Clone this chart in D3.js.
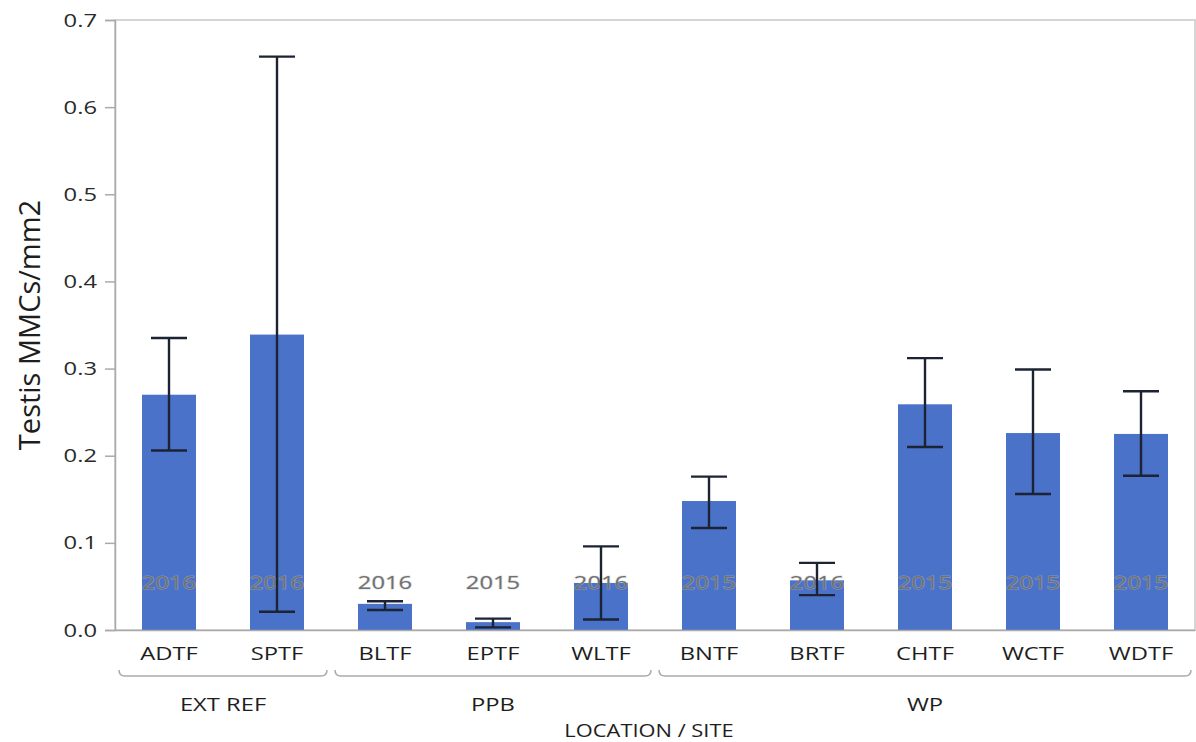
<!DOCTYPE html>
<html>
<head>
<meta charset="utf-8">
<script src="https://cdn.jsdelivr.net/npm/d3@7"></script>
<style>
  body { margin: 0; background: #fff; }
  text { font-family: "Open Sans", "Noto Sans", sans-serif; }
</style>
</head>
<body>
<div id="chart"></div>
<script>
const width = 1196;
const height = 742;
const margin = { top: 20, right: 1, bottom: 112, left: 115 };
const sx = 1.25; // the source picture is stretched sideways

const sites = ['ADTF', 'SPTF', 'BLTF', 'EPTF', 'WLTF', 'BNTF', 'BRTF', 'CHTF', 'WCTF', 'WDTF'];
const means = [0.270, 0.339, 0.030, 0.009, 0.054, 0.148, 0.057, 0.259, 0.226, 0.225];
const upper = [0.335, 0.658, 0.033, 0.013, 0.096, 0.176, 0.077, 0.312, 0.299, 0.274];
const lower = [0.206, 0.021, 0.023, 0.003, 0.012, 0.117, 0.040, 0.210, 0.156, 0.177];
const years = ['2016', '2016', '2016', '2015', '2016', '2015', '2016', '2015', '2015', '2015'];
const groups = ['EXT REF', 'PPB', 'WP'];
const groupSpans = [[0, 1], [2, 4], [5, 9]];
const yTicks = [0, 0.1, 0.2, 0.3, 0.4, 0.5, 0.6, 0.7];

const data = sites.map((s, i) => ({ site: s, mean: means[i], hi: upper[i], lo: lower[i], year: years[i] }));

const svg = d3.select('#chart')
  .append('svg')
  .attr('width', width)
  .attr('height', height);

const x = d3.scaleBand()
  .domain(sites)
  .range([margin.left, width - margin.right])
  .paddingInner(0.5)
  .paddingOuter(0.25);

const y = d3.scaleLinear()
  .domain([0, 0.7])
  .range([height - margin.bottom, margin.top]);

// horizontal text placed at (px, py), widened like the source
function wideText(px, py, str, size, fill) {
  return svg.append('text')
    .attr('transform', `translate(${px},${py}) scale(${sx},1)`)
    .attr('text-anchor', 'middle')
    .attr('font-size', size)
    .attr('fill', fill)
    .text(str);
}

// frame
svg.append('rect')
  .attr('x', margin.left)
  .attr('y', margin.top)
  .attr('width', width - margin.right - margin.left)
  .attr('height', height - margin.bottom - margin.top)
  .attr('fill', 'none')
  .attr('stroke', '#c8c8c8')
  .attr('stroke-width', 1.5);

// y axis
const yAxis = d3.axisLeft(y).tickValues(yTicks).tickFormat(d3.format('.1f')).tickSize(10).tickPadding(0);
const gy = svg.append('g')
  .attr('transform', `translate(${margin.left},0)`)
  .call(yAxis);
gy.select('.domain').attr('stroke', '#aaa').attr('stroke-width', 1.5);
gy.selectAll('.tick line').attr('stroke', '#aaa').attr('stroke-width', 1.5);
gy.selectAll('.tick text')
  .attr('x', 0)
  .attr('transform', `translate(-18,0) scale(${sx},1)`)
  .attr('font-size', 19)
  .attr('fill', '#2a2a2a');

// bars
svg.selectAll('rect.bar').data(data)
  .enter().append('rect')
  .attr('class', 'bar')
  .attr('x', d => x(d.site))
  .attr('width', x.bandwidth())
  .attr('y', d => y(d.mean))
  .attr('height', d => y(0) - y(d.mean))
  .attr('fill', '#4a72c8');

// year labels
data.forEach(d => {
  wideText(x(d.site) + x.bandwidth() / 2, 589, d.year, 19, '#707070')
    .attr('stroke', 'rgba(190,190,190,0.5)')
    .attr('stroke-width', 1.2)
    .attr('paint-order', 'stroke');
});

// error bars
const cap = 18;
const err = svg.append('g').attr('stroke', '#1c2333').attr('stroke-width', 2.4);
err.selectAll('line.stem').data(data)
  .enter().append('line')
  .attr('x1', d => x(d.site) + x.bandwidth() / 2)
  .attr('x2', d => x(d.site) + x.bandwidth() / 2)
  .attr('y1', d => y(d.hi))
  .attr('y2', d => y(d.lo));
['hi', 'lo'].forEach(k => {
  err.selectAll(`line.cap-${k}`).data(data)
    .enter().append('line')
    .attr('x1', d => x(d.site) + x.bandwidth() / 2 - cap)
    .attr('x2', d => x(d.site) + x.bandwidth() / 2 + cap)
    .attr('y1', d => y(d[k]))
    .attr('y2', d => y(d[k]));
});

// x axis
const gx = svg.append('g')
  .attr('transform', `translate(0,${y(0)})`)
  .call(d3.axisBottom(x).tickSize(0).tickPadding(0));
gx.select('.domain').attr('stroke', '#aaa').attr('stroke-width', 1.5);
gx.selectAll('.tick text')
  .attr('y', 0)
  .attr('dy', 0)
  .attr('transform', `translate(0,30) scale(${sx},1)`)
  .attr('font-size', 19)
  .attr('fill', '#1e1e1e');

// group brackets
const step = x.step();
const bracketY = 676;
groupSpans.forEach((span, i) => {
  const x0 = x(sites[span[0]]) + x.bandwidth() / 2 - step / 2 + 4;
  const x1 = x(sites[span[1]]) + x.bandwidth() / 2 + step / 2 - 4;
  svg.append('path')
    .attr('d', `M${x0},${bracketY - 6} Q${x0},${bracketY} ${x0 + 6},${bracketY} L${x1 - 6},${bracketY} Q${x1},${bracketY} ${x1},${bracketY - 6}`)
    .attr('fill', 'none')
    .attr('stroke', '#aaa')
    .attr('stroke-width', 1.5);
  wideText((x0 + x1) / 2, 711, groups[i], 19, '#1e1e1e');
});

// axis titles
wideText((margin.left + width - margin.right) / 2 - 6, 737, 'LOCATION / SITE', 17.5, '#1e1e1e');

svg.append('text')
  .attr('transform', `translate(40,${(margin.top + height - margin.bottom) / 2}) rotate(-90)`)
  .attr('text-anchor', 'middle')
  .attr('font-size', 29)
  .attr('fill', '#1e1e1e')
  .text('Testis MMCs/mm2');
</script>
</body>
</html>
